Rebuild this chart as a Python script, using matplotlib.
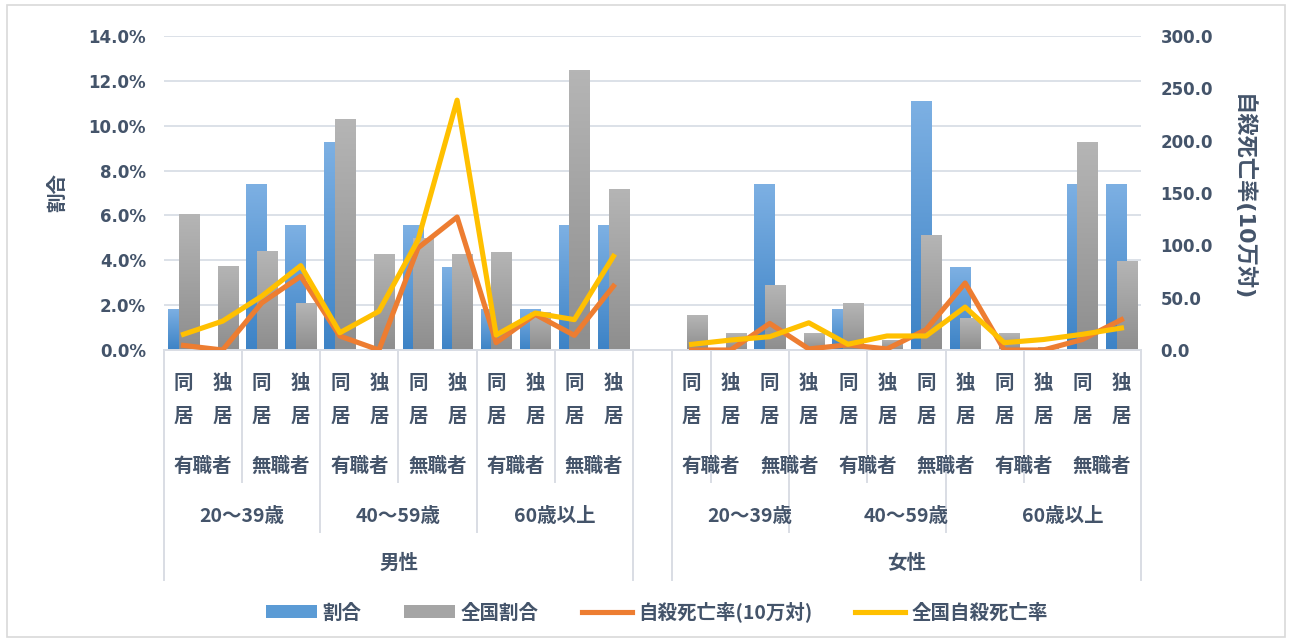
import numpy as np
import matplotlib
matplotlib.use('Agg')
import matplotlib.pyplot as plt
from matplotlib.colors import LinearSegmentedColormap
from matplotlib.patches import Patch, Rectangle
from matplotlib.lines import Line2D
import matplotlib.transforms as mtrans

plt.rcParams['font.family'] = ['Noto Sans CJK JP', 'DejaVu Sans']

# ---- data (index 12 is the empty gap between 男性 and 女性) ----
nan = np.nan
wariai = [1.85, 0, 7.41, 5.56, 9.26, 0, 5.56, 3.70, 1.85, 1.85, 5.56, 5.56,
          nan,
          0, 0, 7.41, 0, 1.85, 0, 11.11, 3.70, 0, 0, 7.41, 7.41]
zenkoku_wariai = [6.06, 3.76, 4.40, 2.09, 10.30, 4.28, 5.0, 4.28, 4.38, 1.7, 12.49, 7.19,
                  nan,
                  1.56, 0.74, 2.89, 0.74, 2.09, 0.45, 5.14, 1.41, 0.74, 0.15, 9.27, 3.97]
jisatsu = [4.4, 0, 45, 70.5, 13.3, 0, 97.5, 127, 7, 34, 14, 61,
           nan,
           0, 0, 25.4, 1, 5, 1, 19.5, 64, 0, 0, 10, 29]
zenkoku_jisatsu = [15, 27.6, 51.4, 80.6, 16.5, 37, 105, 238.7, 14.3, 35.3, 29, 89.5,
                   nan,
                   5.4, 9.5, 12.7, 26, 5.5, 13.4, 13.4, 41, 7, 10, 15, 21]

kyoju = ['同居', '独居']
shokugyo = ['有職者', '無職者']
nendai = ['20～39歳', '40～59歳', '60歳以上']
seibetsu = ['男性', '女性']

txt = '#44546A'
W, H = 1292, 642

fig = plt.figure(figsize=(W / 100, H / 100), dpi=100)
ax = fig.add_axes([164 / W, (H - 350) / H, (1141 - 164) / W, 314 / H])
ax2 = ax.twinx()

x = np.arange(len(wariai))
bw = 0.52
off = 0.135


def grad_bar(xc, h, top, bot, z):
    if np.isnan(h) or h <= 0:
        return
    b = ax.bar(xc, h, bw, color='none', edgecolor='none', zorder=z)[0]
    cm = LinearSegmentedColormap.from_list('g', [bot, top])
    im = ax.imshow(np.linspace(0, 1, 64).reshape(-1, 1), extent=[xc - bw / 2, xc + bw / 2, 0, h],
                   origin='lower', aspect='auto', cmap=cm, zorder=z, interpolation='bilinear')
    im.set_clip_path(b)


for i in x:
    grad_bar(i - off, wariai[i], '#7DB0E3', '#3D83C6', 2)
    grad_bar(i + off, zenkoku_wariai[i], '#B5B5B5', '#8E8E8E', 2.1)

ax.set_xlim(-0.5, len(wariai) - 0.5)
ax.set_ylim(0, 14)
ax.set_yticks(np.arange(0, 15, 2))
ax.set_yticklabels(['%.1f%%' % v for v in np.arange(0, 15, 2)])
ax.set_xticks([])
ax.set_axisbelow(True)
ax.yaxis.grid(True, color='#DCE1E8', lw=1.4)
for s in ['top', 'left', 'right']:
    ax.spines[s].set_visible(False)
    ax2.spines[s].set_visible(False)
ax.spines['bottom'].set_color('#D9DDE4')
ax.spines['bottom'].set_linewidth(1.4)
ax2.spines['bottom'].set_visible(False)

ax2.plot(x, jisatsu, color='#ED7D31', lw=3.7, zorder=3)
ax2.plot(x, zenkoku_jisatsu, color='#FFC000', lw=3.7, zorder=4)
ax2.set_ylim(0, 300)
ax2.set_yticks(np.arange(0, 301, 50))
ax2.set_yticklabels(['%.1f' % v for v in np.arange(0, 301, 50)])

for a, p in [(ax, 13), (ax2, 14)]:
    a.tick_params(axis='y', length=0, pad=p, labelcolor=txt)
    for t in a.get_yticklabels():
        t.set_family('DejaVu Sans')
        t.set_fontweight('bold')
        t.set_fontsize(12)

ax.set_ylabel('割合', fontsize=14, fontweight='bold', color=txt, va='center')
ax.yaxis.set_label_coords((58 - 164) / 977, (350 - 193) / 314)
ax2.set_ylabel('自殺死亡率(10万対)', fontsize=16, fontweight='bold', color=txt, rotation=-90,
               va='center', family=['DejaVu Sans', 'Noto Sans CJK JP'])
ax2.yaxis.set_label_coords((1243 - 164) / 977, (350 - 198) / 314)

# ---- multi-level category labels ----
tr = mtrans.blended_transform_factory(ax.transData, ax.transAxes)


def fy(p):
    return (350 - p) / 314


lab = dict(transform=tr, ha='center', va='center', color=txt, fontweight='bold',
           fontsize=14, clip_on=False)
for s in range(2):
    base = s * 13
    for g in range(3):
        for j in range(2):
            for k in range(2):
                xi = base + g * 4 + j * 2 + k
                ax.text(xi, fy(383), kyoju[k][0], **lab)
                ax.text(xi, fy(416), kyoju[k][1], **lab)
            ax.text(base + g * 4 + j * 2 + 0.5, fy(466), shokugyo[j], **lab)
        ax.text(base + g * 4 + 1.5, fy(516), nendai[g], **lab)
    ax.text(base + 5.5, fy(563), seibetsu[s], **lab)

sep = [(1.5, 482), (5.5, 482), (9.5, 482), (13.5, 482), (17.5, 482), (21.5, 482),
       (3.5, 532), (7.5, 532), (15.5, 532), (19.5, 532),
       (-0.5, 580), (11.5, 580), (12.5, 580), (24.5, 580)]
for xs, yend in sep:
    ax.plot([xs, xs], [0, fy(yend)], transform=tr, color='#D9DDE4', lw=1.4, clip_on=False)

# ---- legend ----
handles = [Patch(facecolor='#5B9BD5'), Patch(facecolor='#A5A5A5'),
           Line2D([], [], color='#ED7D31', lw=3.7), Line2D([], [], color='#FFC000', lw=3.7)]
names = ['割合', '全国割合', '自殺死亡率(10万対)', '全国自殺死亡率']
leg = fig.legend(handles, names, loc='center', bbox_to_anchor=(657 / W, 1 - 612 / H), ncol=4,
                 frameon=False, handlelength=2.6, handleheight=0.6, handletextpad=0.3,
                 columnspacing=2.2, prop={'size': 14, 'weight': 'bold'})
for t in leg.get_texts():
    t.set_color(txt)

fig.patches.append(Rectangle((7 / W, 5 / H), (1285 - 7) / W, (637 - 5) / H, transform=fig.transFigure,
                             fill=False, edgecolor='#D9D9D9', lw=1.2))

fig.savefig('out.png', dpi=100)
